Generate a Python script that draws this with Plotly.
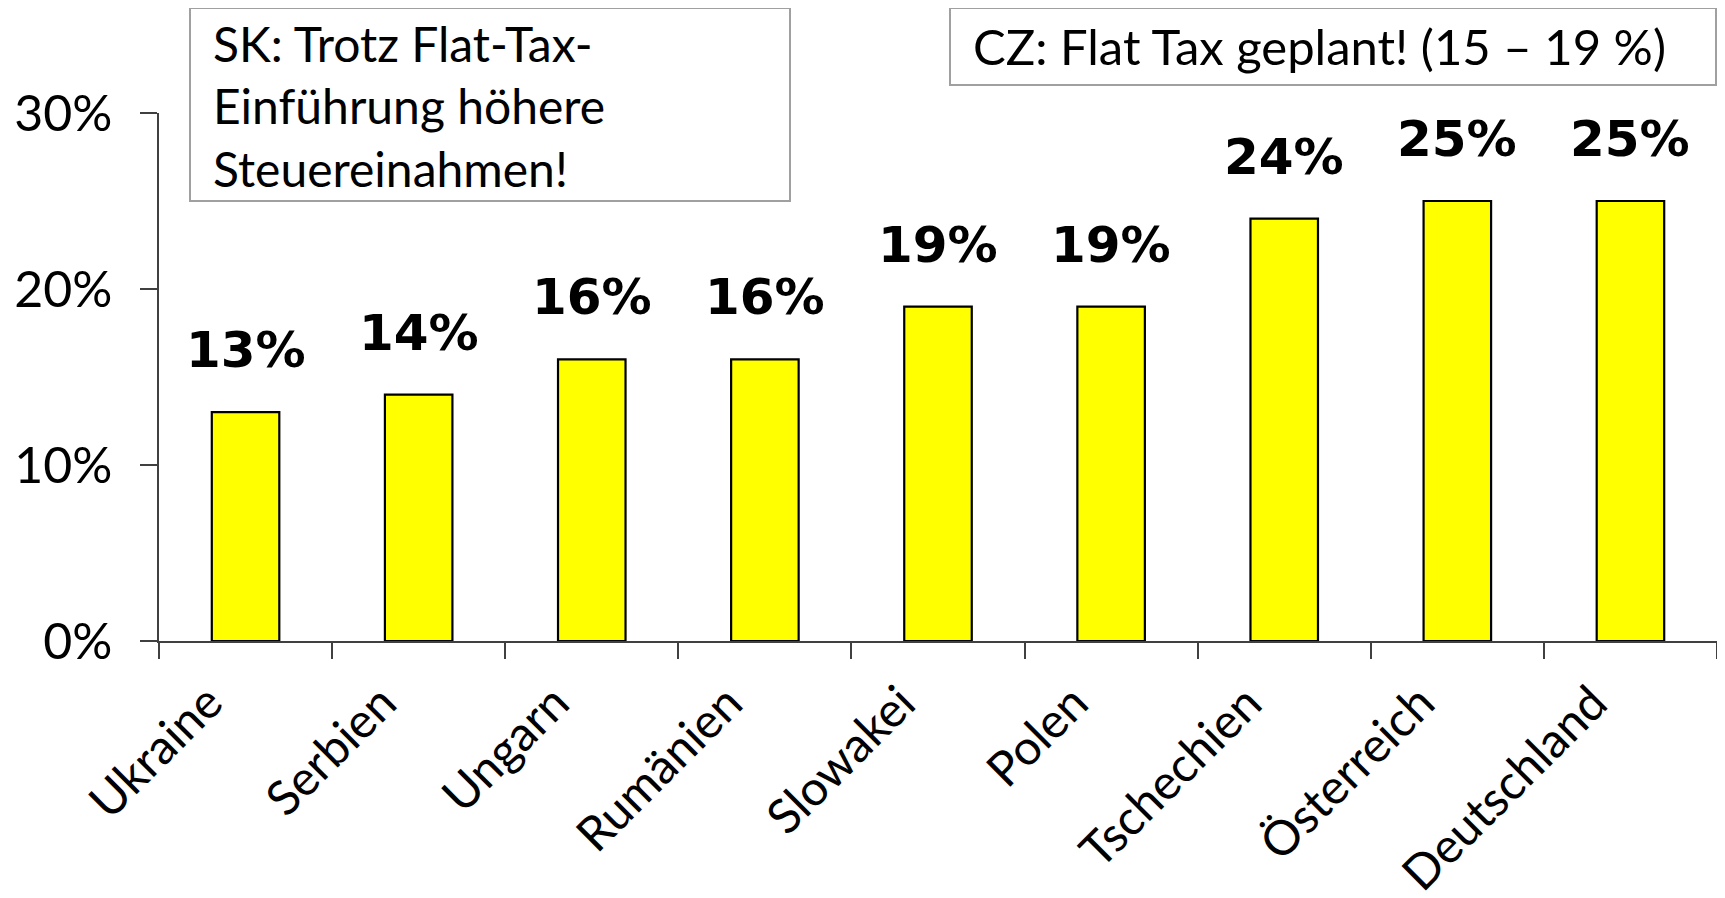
import plotly.graph_objects as go

countries = ["Ukraine", "Serbien", "Ungarn", "Rumänien", "Slowakei", "Polen",
             "Tschechien", "Österreich", "Deutschland"]
tax_rates = [13, 14, 16, 16, 19, 19, 24, 25, 25]
value_labels = ["13%", "14%", "16%", "16%", "19%", "19%", "24%", "25%", "25%"]
y_tickvals = [0, 10, 20, 30]
y_ticktext = ["0%", "10%", "20%", "30%"]
note_sk = "SK: Trotz Flat-Tax-<br>Einführung höhere<br>Steuereinahmen!"
note_cz = "CZ: Flat Tax geplant! (15 – 19 %)"

# page body has an 8px margin: draw the figure 8px smaller and shift coords
OFF = 8
W, H = 1725 - OFF, 898 - OFF
ML, MR, MT, MB = 159 - OFF, 8, 113 - OFF, 257
pw = W - ML - MR
ph = H - MT - MB


def px(x):
    return (x - OFF - ML) / pw


def py(y):
    return (H - MB - (y - OFF)) / ph


REG = "Lato, 'Open Sans', sans-serif"
BOLD = "'DejaVu Sans', sans-serif"

fig = go.Figure()
fig.add_trace(go.Bar(
    x=countries, y=tax_rates,
    marker=dict(color="#FFFF00", line=dict(color="#000000", width=2.2)),
    width=0.39,
    hoverinfo="skip",
))

annotations = []
for c, v, t in zip(countries, tax_rates, value_labels):
    annotations.append(dict(
        x=c, y=v, xref="x", yref="y", text=t, showarrow=False,
        yanchor="bottom", xanchor="center", yshift=31,
        font=dict(family=BOLD, size=50, color="#000000", weight="bold"),
    ))

# rotated category labels
for c in countries:
    annotations.append(dict(
        x=c, y=0, xref="x", yref="y", text=c, showarrow=False,
        textangle=-45, xanchor="right", yanchor="top",
        xshift=-10, yshift=-29,
        font=dict(family=REG, size=48, color="#000000"),
    ))

annotations.append(dict(
    x=px(211), y=py(106), xref="paper", yref="paper", text=note_sk,
    showarrow=False, xanchor="left", yanchor="middle", align="left",
    font=dict(family=REG, size=48, color="#000000"),
))
annotations.append(dict(
    x=px(971), y=py(46), xref="paper", yref="paper", text=note_cz,
    showarrow=False, xanchor="left", yanchor="middle", align="left",
    font=dict(family=REG, size=49, color="#000000"),
))

shapes = [
    dict(type="rect", xref="paper", yref="paper",
         x0=px(190), x1=px(790), y0=py(201), y1=py(8),
         line=dict(color="#A0A0A0", width=2), fillcolor="white", layer="below"),
    dict(type="rect", xref="paper", yref="paper",
         x0=px(950), x1=px(1716), y0=py(85), y1=py(8),
         line=dict(color="#A0A0A0", width=2), fillcolor="white", layer="below"),
]

fig.update_layout(
    width=W, height=H,
    margin=dict(l=ML, r=MR, t=MT, b=MB, pad=0, autoexpand=False),
    plot_bgcolor="white", paper_bgcolor="white",
    showlegend=False,
    annotations=annotations,
    shapes=shapes,
    xaxis=dict(
        type="category", automargin=False,
        range=[-0.5, len(countries) - 0.5], autorange=False,
        showline=True, linecolor="#404040", linewidth=1.5,
        ticks="outside", tickson="boundaries", ticklen=16, tickcolor="#404040",
        tickwidth=1.5,
        showticklabels=False,
        showgrid=False, zeroline=False,
    ),
    yaxis=dict(
        range=[0, 30], autorange=False, automargin=False,
        tickvals=y_tickvals, ticktext=y_ticktext,
        showline=True, linecolor="#404040", linewidth=1.5,
        ticks="outside", ticklen=17, tickcolor="#404040", tickwidth=1.5,
        tickfont=dict(family=REG, size=50, color="#000000"),
        ticklabelstandoff=18,
        showgrid=False, zeroline=False,
    ),
)

fig.write_html("out.html")
